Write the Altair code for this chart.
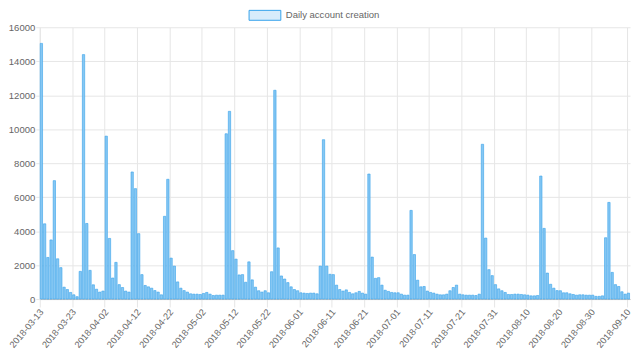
import altair as alt
import pandas as pd

# ---- data ----
start_date = "2018-03-13"
values = [
    15050, 4430, 2450, 3480, 6970, 2370, 1850, 700, 560, 390,
    250, 140, 1630, 14390, 4450, 1690, 840, 580, 410, 470,
    9590, 3570, 1240, 2160, 850, 680, 470, 410, 7480, 6500,
    3850, 1440, 800, 720, 640, 500, 410, 250, 4870, 7050,
    2410, 1940, 1010, 640, 500, 410,
    310, 290, 290, 270,
    330, 390, 290, 210, 230, 230, 230, 9730, 11050, 2850,
    2350, 1420, 1440, 990, 2190, 1130, 700, 490, 410, 490,
    370, 1610, 12290, 3010, 1360, 1180, 970, 720, 560, 490,
    370, 350, 330, 350, 350, 310, 1940, 9380, 1940, 1460,
    1440, 820,
    560, 470, 540, 390, 310, 370, 450, 350,
    290, 7360, 2470, 1220, 1260, 820, 520, 450, 390, 370,
    370, 290, 230, 230, 5220, 2620, 1110, 720, 740, 470,
    390, 350, 290, 250, 250, 290, 490, 680, 820, 290,
    250, 230, 230, 230, 210, 290, 9110, 3590,
    1730, 1380,
    850, 600, 490, 390, 270, 270, 290, 290, 270, 250,
    230, 190, 190, 210, 7240, 4160, 1530, 870, 640, 500,
    490, 370, 370, 310, 270, 230, 250, 250, 230, 230,
    230, 160, 160, 190, 3610, 5690, 1570, 850, 740, 430,
    290, 350,
]
x_tick_index = list(range(0, 171, 10)) + [181]
y_ticks = list(range(0, 16001, 2000))
legend_label = "Daily account creation"

dates = pd.date_range(start_date, periods=len(values), freq="D").strftime("%Y-%m-%d")
df = pd.DataFrame({"i": list(range(len(values))), "date": list(dates), "count": values})
legend_df = pd.DataFrame({"label": [legend_label]})

W, H = 595, 274
FONT = "Liberation Sans"
FS = 9.6
GRID = "#e6e6e6"
TXT = "#666666"

y0, m0, d0 = (int(p) for p in start_date.split("-"))
label_expr = f"timeFormat(datetime({y0}, {m0 - 1}, {d0} + datum.value), '%Y-%m-%d')"

bars = alt.Chart(df).transform_calculate(
    x0="datum.i + 0.14", x1="datum.i + 0.86", base="0"
).mark_bar(fill="#86c7f3", stroke="#36a2eb", strokeWidth=0.6).encode(
    x=alt.X("x0:Q", title=None,
            scale=alt.Scale(domain=[0, len(values)], nice=False, zero=False),
            axis=alt.Axis(values=x_tick_index, labelExpr=label_expr,
                          labelAngle=-50, labelAlign="right", labelBaseline="middle",
                          labelPadding=3, labelOffset=1.6, tickSize=8,
                          labelOverlap=False, labelFlush=False,
                          grid=True, gridColor=GRID, tickColor=GRID,
                          domainColor="#bfbfbf", labelColor=TXT,
                          labelFont=FONT, labelFontSize=9.3)),
    x2="x1:Q",
    y=alt.Y("count:Q", title=None,
            scale=alt.Scale(domain=[0, 16000], nice=False),
            axis=alt.Axis(values=y_ticks, format="d", tickSize=4, labelPadding=1,
                          grid=True, gridColor=GRID, tickColor=GRID,
                          domainColor=GRID, labelColor=TXT,
                          labelFont=FONT, labelFontSize=FS)),
    y2="base:Q",
    tooltip=["date:N", "count:Q"],
)

swatch = alt.Chart(legend_df).mark_rect(
    fill="#d7ecfb", stroke="#36a2eb", strokeWidth=1
).encode(x=alt.value(211), x2=alt.value(243), y=alt.value(-17), y2=alt.value(-7))

legend_text = alt.Chart(legend_df).mark_text(
    align="left", baseline="middle", font=FONT, fontSize=FS, color=TXT
).encode(x=alt.value(248), y=alt.value(-12), text="label:N")

chart = alt.layer(bars, swatch, legend_text).properties(
    width=W, height=H,
    autosize=alt.AutoSizeParams(type="none"),
    padding={"left": 32, "top": 18, "right": 2, "bottom": 55},
).configure_view(stroke=None)

chart.save("out.html", embed_options={"renderer": "svg", "actions": False})
